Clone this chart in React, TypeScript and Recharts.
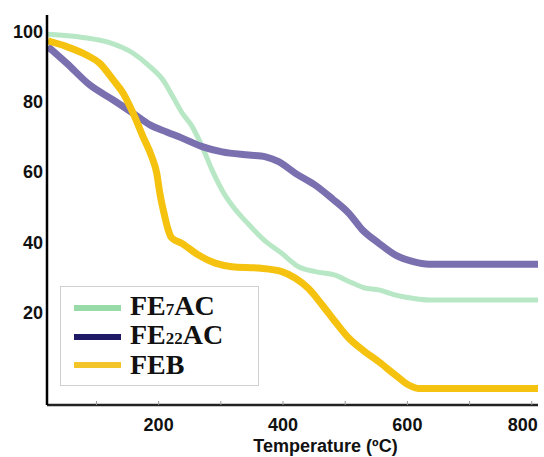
import React from "react";
import { LineChart, Line, XAxis, YAxis, Legend } from "recharts";

const fe7acTemp = [22, 78, 121, 159, 186, 207, 223, 237, 254, 270, 286, 302, 318, 345, 372, 398, 425, 452, 484, 506, 530, 554, 581, 608, 635, 810];
const fe7acMass = [99.2, 98.3, 96.8, 93.8, 90.0, 86.2, 81.4, 77.0, 72.9, 67.2, 60.5, 54.8, 50.5, 45.0, 40.2, 36.8, 33.0, 31.6, 30.6, 28.8, 27.0, 26.4, 24.9, 24.0, 23.5, 23.5];

const fe22acTemp = [22, 52, 89, 127, 159, 186, 213, 237, 270, 302, 345, 372, 393, 420, 452, 479, 506, 527, 554, 581, 608, 635, 810];
const fe22acMass = [95.7, 91.0, 84.8, 80.5, 76.7, 73.4, 71.4, 69.7, 67.2, 65.7, 64.8, 64.3, 62.9, 59.6, 56.2, 52.4, 48.2, 43.6, 39.7, 36.3, 34.5, 33.7, 33.7];

const febTemp = [22, 52, 84, 105, 127, 143, 159, 175, 189, 197, 202, 210, 215, 221, 237, 264, 291, 318, 361, 398, 420, 441, 463, 484, 506, 530, 554, 581, 602, 619, 810];
const febMass = [97.3, 95.7, 93.3, 91.0, 86.2, 82.4, 76.7, 70.0, 64.3, 59.6, 53.9, 47.2, 43.7, 41.2, 39.7, 36.3, 34.0, 33.0, 32.6, 31.6, 29.7, 26.8, 22.1, 17.3, 12.6, 9.0, 5.9, 2.1, -0.7, -1.7, -1.7];

const xTicks = [100, 200, 300, 400, 500, 600, 700, 800];
const yTicks = [20, 40, 60, 80, 100];

const toRows = (temps: number[], mass: number[]) => temps.map((t, i) => ({ t, m: mass[i] }));

const series = [
  { key: "FE7AC", name: "FE", sub: "7", rest: "AC", data: toRows(fe7acTemp, fe7acMass), stroke: "#b7e7c5", legend: "#98dba9", width: 5 },
  { key: "FE22AC", name: "FE", sub: "22", rest: "AC", data: toRows(fe22acTemp, fe22acMass), stroke: "#7a70b0", legend: "#1f1a66", width: 7 },
  { key: "FEB", name: "FEB", sub: "", rest: "", data: toRows(febTemp, febMass), stroke: "#f4c20f", legend: "#f4c52a", width: 7 },
];

const tickFont = { fontFamily: "'Liberation Sans', Arial, sans-serif", fontWeight: 700, fontSize: 18, fill: "#111" };

const XTick = (props: any) => {
  const { x, y, payload } = props;
  const axisY = y - 13;
  const v = payload.value;
  const showLabel = v % 200 === 0;
  const last = v === 800;
  return (
    <g>
      <line x1={x} x2={x} y1={axisY - 4} y2={axisY} stroke="#999" strokeWidth={1} />
      {showLabel && (
        <text x={last ? x + 6 : x} y={y} dy="0.71em" textAnchor={last ? "end" : "middle"} {...tickFont}>
          {v}
        </text>
      )}
    </g>
  );
};

const LegendBox = () => (
  <div
    style={{
      boxSizing: "border-box",
      width: 199,
      height: 100,
      border: "1px solid #d0d0d0",
      background: "#fff",
      paddingTop: 7,
      paddingLeft: 13,
      fontFamily: "'Liberation Serif', 'Times New Roman', serif",
      fontWeight: 700,
      fontSize: 28,
      color: "#111",
    }}
  >
    {series.map((s) => (
      <div key={s.key} style={{ display: "flex", alignItems: "center", height: 28.5 }}>
        <span style={{ display: "inline-block", width: 47, height: 6, background: s.legend, marginRight: 9 }} />
        <span style={{ lineHeight: "28px", whiteSpace: "nowrap" }}>
          {s.name}
          {s.sub && <span style={{ fontSize: 17 }}>{s.sub}</span>}
          {s.rest}
        </span>
      </div>
    ))}
  </div>
);

export default function App() {
  return (
    <div style={{ position: "absolute", left: 0, top: 0, width: 544, height: 457, background: "#fff" }}>
      <LineChart width={544} height={457} margin={{ top: 15, right: 6, left: 0, bottom: 0 }}>
        <XAxis
          type="number"
          dataKey="t"
          domain={[20.5, 810]}
          ticks={xTicks}
          allowDataOverflow
          height={52}
          tickSize={0}
          tickMargin={13}
          tickLine={false}
          tick={<XTick />}
          axisLine={{ stroke: "#222", strokeWidth: 2.5 }}
          label={{
            value: "Temperature (ºC)",
            position: "insideBottom",
            offset: 5,
            dx: 33,
            fontSize: 18,
            fontWeight: 700,
            fontFamily: "'Liberation Sans', Arial, sans-serif",
            fill: "#111",
          }}
        />
        <YAxis
          type="number"
          domain={[-6.4, 104.7]}
          ticks={yTicks}
          allowDataOverflow
          width={47}
          tickSize={0}
          tickMargin={4}
          tickLine={false}
          tick={tickFont}
          axisLine={{ stroke: "#000", strokeWidth: 2.5 }}
        />
        <Legend
          layout="horizontal"
          verticalAlign="middle"
          align="center"
          content={<LegendBox />}
          wrapperStyle={{ left: 60, top: 286, width: 199, height: 100 }}
        />
        {series.map((s) => (
          <Line
            key={s.key}
            data={s.data}
            dataKey="m"
            name={s.key}
            type="monotone"
            stroke={s.stroke}
            strokeWidth={s.width}
            dot={false}
            activeDot={false}
            isAnimationActive={false}
          />
        ))}
      </LineChart>
    </div>
  );
}
